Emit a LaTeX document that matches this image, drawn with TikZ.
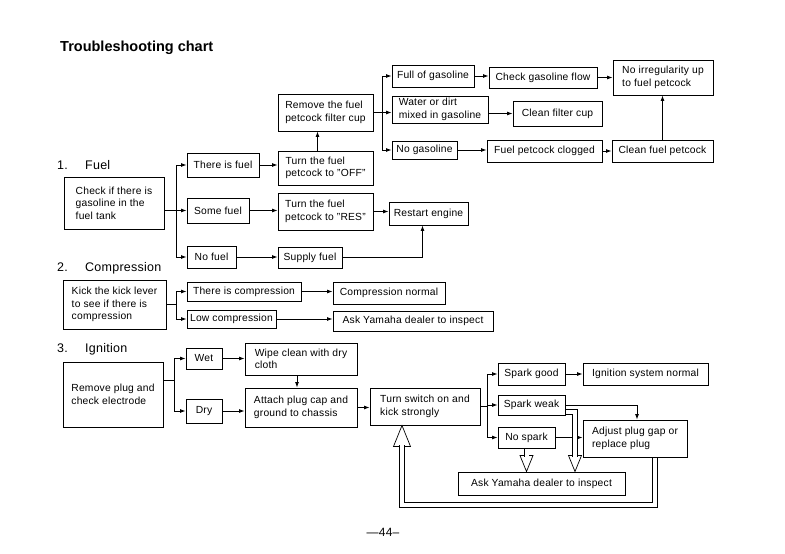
\documentclass[tikz,border=0pt]{standalone}
\usepackage{fontspec}
\setmainfont{Liberation Sans}[LetterSpace=2]
\newfontfamily\titlefont{Liberation Sans}
\usetikzlibrary{arrows.meta,calc}
\newcommand\mybox[6]{\pgfmathsetmacro\bw{#4-#2}\pgfmathsetmacro\bh{#5-#3}%
  \node[box,minimum width=\bw pt,minimum height=\bh pt] (#1) at ({(#2+#4)/2},{(#3+#5)/2}) {#6};}
\begin{document}
\begin{tikzpicture}[x=1pt,y=-1pt,
 box/.style={draw, line width=0.95pt, inner sep=0pt, align=left, font=\fontsize{10.3}{12.5}\selectfont},
 conn/.style={line width=0.85pt},
 arr/.style={conn, -{Latex[length=5.5pt,width=4pt]}},
 dbl/.style={line width=0.7pt, double=white, double distance=4pt},
 head/.style={line width=0.7pt, fill=white},
 lbl/.style={anchor=base west, inner sep=0pt, font=\fontsize{12.5}{14}\selectfont}]
\useasboundingbox[fill=white] (0,0) rectangle (785,554);

\node[anchor=base west, inner sep=0pt, font=\titlefont\bfseries\fontsize{14.5}{16}\selectfont] (title) at (60,51) {Troubleshooting chart};
\node[lbl] (t1) at (57,169) {\makebox[28pt][l]{1.}Fuel};
\node[lbl] (t2) at (57,271) {\makebox[28pt][l]{2.}Compression};
\node[lbl] (t3) at (57,352) {\makebox[28pt][l]{3.}Ignition};
\node[font=\fontsize{12}{14}\selectfont, inner sep=0pt] (pg) at (383,532) {\textemdash44\textendash};

% Fuel
\mybox{check}{64}{177}{164}{229}{Check if there is\\gasoline in the\\fuel tank}
\mybox{tif}{187}{153}{259}{177}{There is fuel}
\mybox{some}{187}{198}{249}{223}{Some fuel}
\mybox{nofuel}{187}{246}{236}{268}{No fuel}
\mybox{remove}{278}{94}{373}{131}{Remove the fuel\\petcock filter cup}
\mybox{off}{278}{151}{373}{185}{Turn the fuel\\petcock to ''OFF''}
\mybox{res}{278}{193}{373}{230}{Turn the fuel\\petcock to ''RES''}
\mybox{supply}{278}{247}{342}{268}{Supply fuel}
\mybox{restart}{389}{202}{468}{225}{Restart engine}
\mybox{full}{392}{65}{474}{87}{Full of gasoline}
\mybox{water}{392}{96}{488}{123}{Water or dirt\\mixed in gasoline}
\mybox{nogas}{392}{141}{457}{159}{No gasoline}
\mybox{flow}{489}{67}{597}{88}{Check gasoline flow}
\mybox{cup}{513}{101}{602}{126}{Clean filter cup}
\mybox{clog}{487}{140}{602}{162}{Fuel petcock clogged}
\mybox{cleanp}{612}{140}{713}{162}{Clean fuel petcock}
\mybox{noirr}{613}{60}{713}{95}{No irregularity up\\to fuel petcock}

\coordinate (bf) at ($(some.west)+(-10,0)$);
\draw[conn] (check.east |- bf) -- (bf);
\draw[arr] (bf) |- (tif.west);
\draw[arr] (bf) -- (some.west);
\draw[arr] (bf) |- (nofuel.west);
\draw[arr] (tif.east) -- (off.west |- tif.east);
\draw[arr] (some.east) -- (res.west |- some.east);
\draw[arr] (nofuel.east) -- (supply.west |- nofuel.east);
\draw[arr] (res.east) -- (restart.west |- res.east);
\coordinate (rs) at ($(restart.south)+(-6,0)$);
\draw[arr] (supply.east) -| (rs);
\coordinate (oa) at ($(off.north)+(-8,0)$);
\draw[arr] (oa) -- (oa |- remove.south);
\coordinate (bg) at ($(remove.east)+(9,0)$);
\draw[conn] (remove.east) -- (bg);
\draw[arr] (bg) |- (full.west);
\draw[arr] (bg) -- (water.west |- bg);
\draw[arr] (bg) |- (nogas.west);
\draw[arr] (full.east) -- (flow.west |- full.east);
\draw[arr] (flow.east) -- (noirr.west |- flow.east);
\draw[arr] (water.east |- cup.west) -- (cup.west);
\draw[arr] (nogas.east) -- (clog.west |- nogas.east);
\draw[arr] (clog.east) -- (cleanp.west |- clog.east);
\draw[arr] (cleanp.north) -- (cleanp.north |- noirr.south);

% Compression
\mybox{kick}{63}{280}{166}{329}{Kick the kick lever\\to see if there is\\compression}
\mybox{thc}{187}{282}{301}{301}{There is compression}
\mybox{low}{187}{310}{276}{328}{Low compression}
\mybox{cnorm}{333}{282}{445}{304}{Compression normal}
\mybox{askc}{333}{311}{493}{331}{Ask Yamaha dealer to inspect}

\coordinate (bc) at ($(kick.east)+(10,0)$);
\draw[conn] (kick.east) -- (bc);
\draw[arr] (bc) |- (thc.west);
\draw[arr] (bc) |- (low.west);
\draw[arr] (thc.east) -- (cnorm.west |- thc.east);
\draw[arr] (low.east) -- (askc.west |- low.east);

% Ignition
\mybox{plug}{63}{362}{163}{427}{Remove plug and\\check electrode}
\mybox{wet}{186}{348}{222}{369}{Wet}
\mybox{dry}{186}{399}{222}{423}{Dry}
\mybox{wipe}{245}{343}{357}{375}{Wipe clean with dry\\cloth}
\mybox{attach}{245}{388}{357}{427}{Attach plug cap and\\ground to chassis}
\mybox{turn}{370}{388}{480}{425}{Turn switch on and\\kick strongly}
\mybox{sgood}{498}{363}{565}{385}{Spark good}
\mybox{sweak}{498}{395}{565}{415}{Spark weak}
\mybox{nosp}{498}{427}{555}{448}{No spark}
\mybox{ignorm}{583}{363}{708}{385}{Ignition system normal}
\mybox{adjust}{583}{420}{687}{457}{Adjust plug gap or\\replace plug}
\mybox{asky}{458}{472}{625}{495}{Ask Yamaha dealer to inspect}

\coordinate (bi) at ($(plug.east)+(11,-14.5)$);
\draw[conn] (plug.east |- bi) -- (bi);
\draw[arr] (bi) |- (wet.west);
\draw[arr] (bi) |- (dry.west);
\draw[arr] (wet.east) -- (wipe.west |- wet.east);
\draw[arr] (dry.east) -- (attach.west |- dry.east);
\coordinate (wa) at ($(wipe.south)+(-4,0)$);
\draw[arr] (wa) -- (wa |- attach.north);
\draw[arr] (attach.east) -- (turn.west |- attach.east);
\coordinate (bs) at ($(turn.east)+(7,0)$);
\draw[conn] (turn.east) -- (bs);
\draw[arr] (bs) |- (sgood.west);
\draw[arr] (bs) |- (sweak.west);
\draw[arr] (bs) |- (nosp.west);
\draw[arr] (sgood.east) -- (ignorm.west |- sgood.east);
\coordinate (aw) at ($(adjust.north)+(2,0)$);
\draw[arr] (sweak.east) -| (aw);
\draw[arr] (nosp.east) -- (adjust.west |- nosp.east);

% hollow arrows
\coordinate (n2) at (nosp.south |- asky.north);
\draw[head] (n2) -- ++(-6.5,-16) -- ++(13,0) -- cycle;
\draw[dbl] ($(nosp.south)+(0,0.5)$) -- ($(n2)+(0,-15)$);

\coordinate (s1) at ($(sweak.east)+(0.5,7)$);
\coordinate (s2) at ($(asky.north)+(33.5,0)$);
\draw[head] (s2) -- ++(-6.5,-16) -- ++(13,0) -- cycle;
\draw[dbl] (s1) -| ($(s2)+(0,-15)$);

\coordinate (l1) at ($(adjust.south)+(20,0.5)$);
\coordinate (l2) at ($(turn.south)+(-23,0)$);
\coordinate (lb) at (0,505);
\draw[head] (l2) -- ++(-8.5,21) -- ++(17,0) -- cycle;
\draw[dbl] (l1) -- (l1 |- lb) -| ($(l2)+(0,20)$);
\end{tikzpicture}
\end{document}
